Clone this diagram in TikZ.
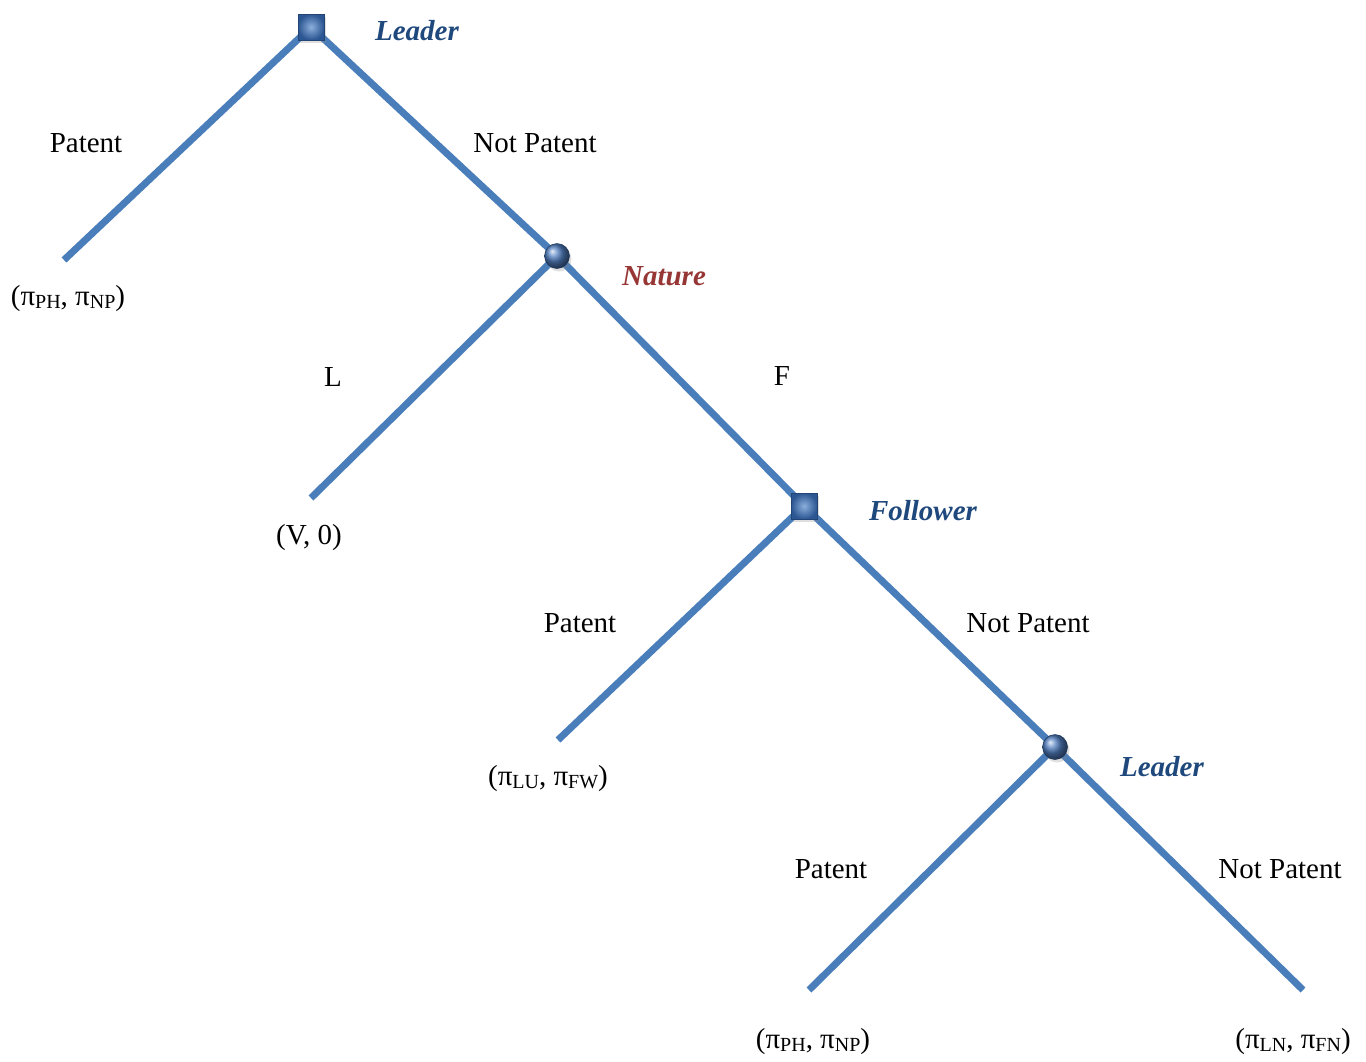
\documentclass[tikz,border=0pt]{standalone}
\usepackage{fontspec}
\setmainfont{Liberation Serif}
\usetikzlibrary{backgrounds,shadows}
\definecolor{edgeblue}{RGB}{74,126,187}
\definecolor{nodeblue}{RGB}{44,86,146}
\definecolor{lightnb}{RGB}{140,175,220}
\definecolor{ballblue}{RGB}{80,125,190}
\definecolor{lblblue}{RGB}{31,73,125}
\definecolor{lblred}{RGB}{150,55,53}
\newcommand{\sbs}[1]{\raisebox{-0.1em}{\fontsize{20}{22}\selectfont #1}}
\tikzset{
  edge/.style={draw=edgeblue, line width=7pt, line cap=butt},
  sqnode/.style={rectangle, minimum size=26pt, inner sep=0pt, draw=nodeblue!80!black, line width=0.6pt,
     inner color=lightnb, outer color=nodeblue, drop shadow={shadow xshift=2pt, shadow yshift=-3pt, opacity=0.25}},
  rdnode/.style={circle, minimum size=25pt, inner sep=0pt, ball color=ballblue, draw=nodeblue!60!black, line width=0.5pt,
     drop shadow={shadow xshift=2pt, shadow yshift=-3pt, opacity=0.25}},
  lbl/.style={font=\fontsize{29}{34}\selectfont, inner sep=0pt},
  player/.style={font=\fontsize{29}{34}\selectfont\bfseries\itshape, inner sep=0pt},
  leaf/.style={inner sep=0pt, minimum size=0pt}
}
\begin{document}
\begin{tikzpicture}[x=1pt,y=-1pt]
\useasboundingbox (0,0) rectangle (1366,1061);
% decision / chance nodes
\node[sqnode] (L1) at (311,27) {};
\node[rdnode] (N) at (557,256) {};
\node[sqnode] (Fo) at (804,506) {};
\node[rdnode] (L2) at (1055,747) {};
% leaves
\coordinate (a) at (64,260);
\coordinate (b) at (311,498);
\coordinate (c) at (558,740);
\coordinate (d) at (809,990);
\coordinate (e) at (1303,990);
\begin{scope}[on background layer]
\draw[edge] (L1.center) -- (a);
\draw[edge] (L1.center) -- (N.center);
\draw[edge] (N.center) -- (b);
\draw[edge] (N.center) -- (Fo.center);
\draw[edge] (Fo.center) -- (c);
\draw[edge] (Fo.center) -- (L2.center);
\draw[edge] (L2.center) -- (d);
\draw[edge] (L2.center) -- (e);
\end{scope}
% player labels
\node[player, text=lblblue] (pL1) at (417,31) {Leader};
\node[player, text=lblred] (pN) at (664,276) {Nature};
\node[player, text=lblblue] (pF) at (923,511) {Follower};
\node[player, text=lblblue] (pL2) at (1162,767) {Leader};
% action labels
\node[lbl] (t1) at (86,143) {Patent};
\node[lbl] (t2) at (535,143) {Not Patent};
\node[lbl] (t3) at (333,377) {L};
\node[lbl] (t4) at (782,376) {F};
\node[lbl] (t5) at (580,623) {Patent};
\node[lbl] (t6) at (1028,623) {Not Patent};
\node[lbl] (t7) at (831,869) {Patent};
\node[lbl] (t8) at (1280,869) {Not Patent};
% payoffs
\node[lbl] (p1) at (68,299) {(π\sbs{PH}, π\sbs{NP})};
\node[lbl] (p2) at (309,538) {(V, 0)};
\node[lbl] (p3) at (548,779) {(π\sbs{LU}, π\sbs{FW})};
\node[lbl] (p4) at (813,1042) {(π\sbs{PH}, π\sbs{NP})};
\node[lbl] (p5) at (1293,1042) {(π\sbs{LN}, π\sbs{FN})};
\end{tikzpicture}
\end{document}
